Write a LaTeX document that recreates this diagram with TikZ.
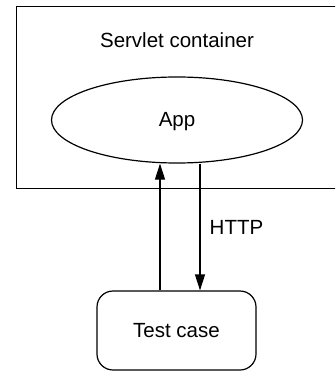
\documentclass[tikz,border=0pt]{standalone}
\usepackage{fontspec}
\setmainfont{Liberation Sans}
\usetikzlibrary{arrows.meta,shapes.geometric,calc}
\begin{document}
\begin{tikzpicture}[x=1pt,y=-1pt,
  lbl/.style={font=\fontsize{20.5}{24}\selectfont, inner sep=0pt},
  frame/.style={draw, line width=1.2pt},
  conn/.style={line width=1.2pt, -{Triangle[length=16pt,width=10pt]}}]
\useasboundingbox (0,0) rectangle (335,371);
\clip (0,0) rectangle (335,371);
\node[frame, rectangle, minimum width=334pt, minimum height=182pt, anchor=north west, inner sep=0pt] (container) at (16,6) {};
\node[lbl] (sc) at (177,40) {Servlet container};
\node[frame, ellipse, minimum width=251pt, minimum height=86pt, inner sep=0pt] (app) at (177,120) {};
\node[lbl] (applbl) at (177,122) {App};
\node[frame, rectangle, rounded corners=16pt, minimum width=159pt, minimum height=79pt, inner sep=0pt] (tc) at (176.5,330.5) {};
\node[lbl] (tclbl) at (176.5,331) {Test case};
\coordinate (upx) at (160,0);
\coordinate (downx) at (200,0);
\draw[conn] (tc.north -| upx) -- (upx |- app.south);
\draw[conn] (downx |- app.south) -- (tc.north -| downx);
\node[lbl] (http) at (236.5,227) {HTTP};
\end{tikzpicture}
\end{document}
